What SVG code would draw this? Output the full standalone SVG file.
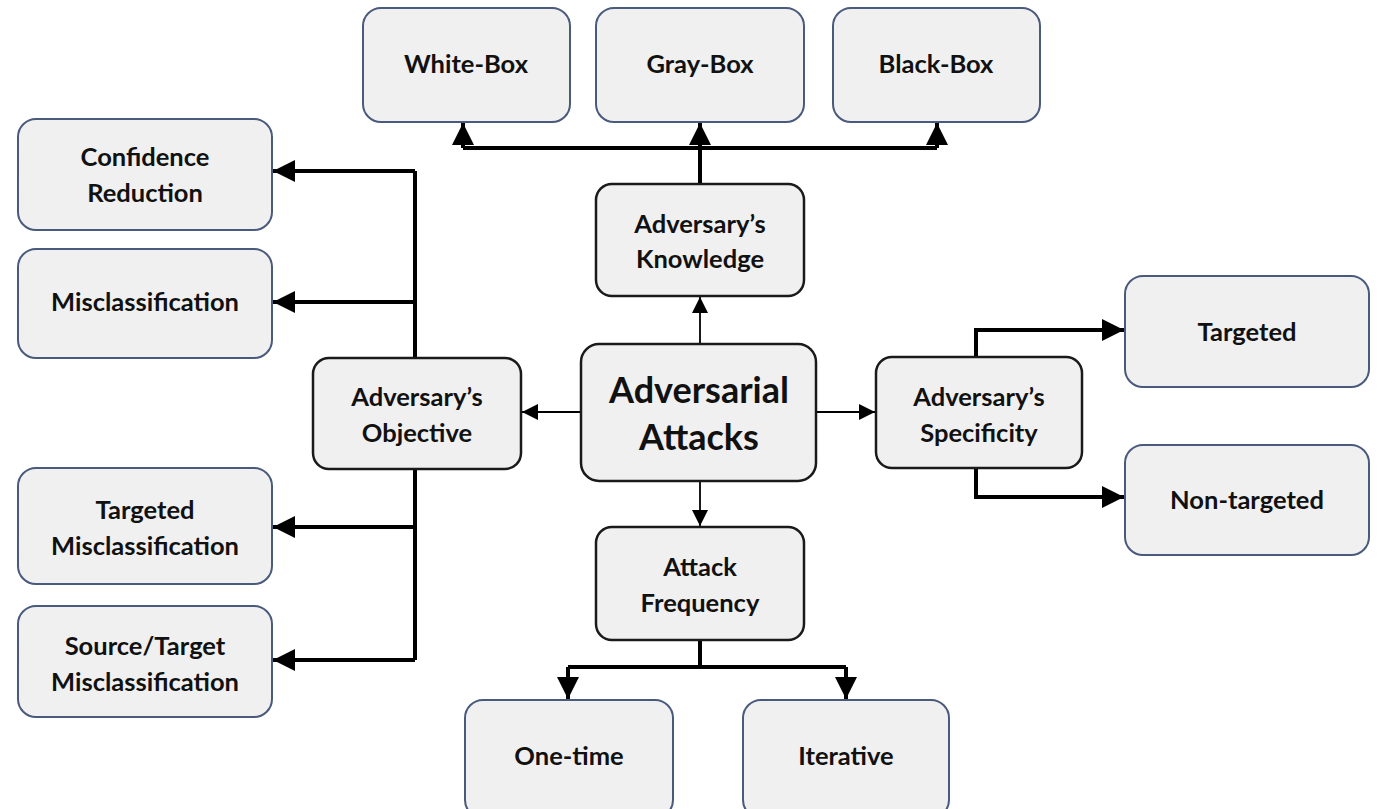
<svg xmlns="http://www.w3.org/2000/svg" width="1380" height="809" viewBox="0 0 1380 809">
<defs>
<style>
.leaf{fill:#f0f0f0;stroke:#4a5a7c;stroke-width:2}
.mid{fill:#f0f0f0;stroke:#1a1a1a;stroke-width:2.5}
.t{font-family:Lato,"Liberation Sans",sans-serif;font-weight:bold;font-size:25.5px;fill:#111;text-anchor:middle}
.big{font-size:36px}
.thick{fill:none;stroke:#000;stroke-width:4}
.thin{fill:none;stroke:#000;stroke-width:1.8}
</style>
<marker id="ah" viewBox="0 0 10 10" refX="10" refY="5" markerWidth="5.5" markerHeight="5.5" markerUnits="strokeWidth" orient="auto"><path d="M0,0L10,5L0,10z" fill="#000"/></marker>
<marker id="ahs" viewBox="0 0 10 10" refX="10" refY="5" markerWidth="9" markerHeight="9" markerUnits="strokeWidth" orient="auto"><path d="M0,0L10,5L0,10z" fill="#000"/></marker>
</defs>
<rect width="1380" height="809" fill="#fff"/>
<g id="connectors">
<path class="thick" d="M700,184V148"/>
<path class="thick" d="M463,148H937"/>
<path class="thick" d="M463,148V123" marker-end="url(#ah)"/>
<path class="thick" d="M700,148V123" marker-end="url(#ah)"/>
<path class="thick" d="M937,148V123" marker-end="url(#ah)"/>
<path class="thin" d="M700,344V297" marker-end="url(#ahs)"/>
<path class="thin" d="M581,412H522" marker-end="url(#ahs)"/>
<path class="thin" d="M816,412H875" marker-end="url(#ahs)"/>
<path class="thin" d="M700,481V526" marker-end="url(#ahs)"/>
<path class="thick" d="M415,358V171"/>
<path class="thick" d="M415,469V660"/>
<path class="thick" d="M415,171H273" marker-end="url(#ah)"/>
<path class="thick" d="M415,302H273" marker-end="url(#ah)"/>
<path class="thick" d="M415,527H273" marker-end="url(#ah)"/>
<path class="thick" d="M415,660H273" marker-end="url(#ah)"/>
<path class="thick" d="M976,357V330H1124" marker-end="url(#ah)"/>
<path class="thick" d="M976,468V497H1124" marker-end="url(#ah)"/>
<path class="thick" d="M700,640V667"/>
<path class="thick" d="M568,667H846"/>
<path class="thick" d="M568,667V699" marker-end="url(#ah)"/>
<path class="thick" d="M846,667V699" marker-end="url(#ah)"/>
</g>
<g id="white-box"><rect class="leaf" x="363" y="8" width="207" height="114" rx="18"/><text class="t" x="466" y="73">White-Box</text></g>
<g id="gray-box"><rect class="leaf" x="596" y="8" width="208" height="114" rx="18"/><text class="t" x="700" y="73">Gray-Box</text></g>
<g id="black-box"><rect class="leaf" x="833" y="8" width="207" height="114" rx="18"/><text class="t" x="936" y="73">Black-Box</text></g>
<g id="knowledge"><rect class="mid" x="596" y="184" width="208" height="112" rx="16"/><text class="t" x="700" y="233">Adversary’s</text><text class="t" x="700" y="268">Knowledge</text></g>
<g id="confidence-reduction"><rect class="leaf" x="18" y="119" width="254" height="111" rx="18"/><text class="t" x="145" y="166">Confidence</text><text class="t" x="145" y="202">Reduction</text></g>
<g id="misclassification"><rect class="leaf" x="18" y="249" width="254" height="109" rx="18"/><text class="t" x="145" y="311">Misclassification</text></g>
<g id="objective"><rect class="mid" x="313" y="358" width="208" height="111" rx="16"/><text class="t" x="417" y="406">Adversary’s</text><text class="t" x="417" y="442">Objective</text></g>
<g id="adversarial-attacks"><rect class="mid" x="581" y="344" width="235" height="137" rx="18"/><text class="t big" x="699" y="403">Adversarial</text><text class="t big" x="699" y="450">Attacks</text></g>
<g id="specificity"><rect class="mid" x="876" y="357" width="206" height="111" rx="16"/><text class="t" x="979" y="406">Adversary’s</text><text class="t" x="979" y="442">Specificity</text></g>
<g id="targeted"><rect class="leaf" x="1125" y="276" width="244" height="111" rx="18"/><text class="t" x="1247" y="341">Targeted</text></g>
<g id="non-targeted"><rect class="leaf" x="1125" y="445" width="244" height="110" rx="18"/><text class="t" x="1247" y="509">Non-targeted</text></g>
<g id="targeted-misclassification"><rect class="leaf" x="18" y="468" width="254" height="116" rx="18"/><text class="t" x="145" y="519">Targeted</text><text class="t" x="145" y="555">Misclassification</text></g>
<g id="source-target-misclassification"><rect class="leaf" x="18" y="606" width="254" height="111" rx="18"/><text class="t" x="145" y="655">Source/Target</text><text class="t" x="145" y="691">Misclassification</text></g>
<g id="attack-frequency"><rect class="mid" x="596" y="527" width="208" height="113" rx="16"/><text class="t" x="700" y="576">Attack</text><text class="t" x="700" y="612">Frequency</text></g>
<g id="one-time"><rect class="leaf" x="465" y="700" width="208" height="118" rx="18"/><text class="t" x="569" y="765">One-time</text></g>
<g id="iterative"><rect class="leaf" x="743" y="700" width="206" height="118" rx="18"/><text class="t" x="846" y="765">Iterative</text></g>
</svg>
